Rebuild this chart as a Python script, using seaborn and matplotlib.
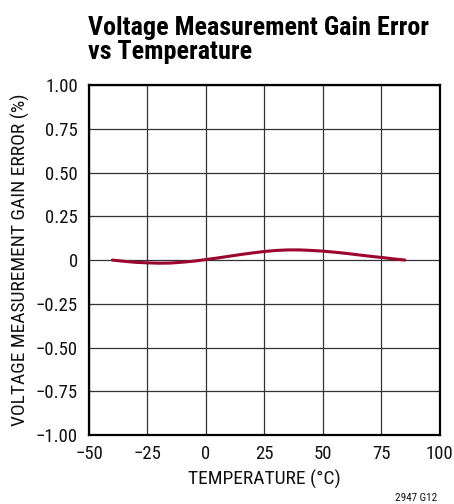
import matplotlib
matplotlib.use("Agg")
import matplotlib.pyplot as plt
import seaborn as sns
import pandas as pd

# Gain error (%) versus temperature (°C)
temperature = [-40, -35, -30, -25, -20, -15, -10, -5, 0, 5, 10, 15, 20,
               25, 30, 35, 40, 45, 50, 55, 60, 65, 70, 75, 80, 85]
gain_error = [0.0, -0.007, -0.013, -0.016, -0.018, -0.017, -0.012, -0.006,
              0.003, 0.012, 0.022, 0.032, 0.041, 0.049, 0.055, 0.058, 0.058,
              0.055, 0.051, 0.045, 0.038, 0.030, 0.022, 0.015, 0.007, 0.0]

x_ticks = [-50, -25, 0, 25, 50, 75, 100]
x_labels = ["\u221250", "\u221225", "0", "25", "50", "75", "100"]
y_ticks = [-1.0, -0.75, -0.5, -0.25, 0.0, 0.25, 0.5, 0.75, 1.0]
y_labels = ["\u22121.00", "\u22120.75", "\u22120.50", "\u22120.25", "0",
            "0.25", "0.50", "0.75", "1.00"]

sns.set_theme(style="white")
plt.rcParams["font.family"] = ["Roboto Condensed", "DejaVu Sans"]

df = pd.DataFrame({"temp": temperature, "err": gain_error})

fig = plt.figure(figsize=(4.54, 5.04), dpi=100)
ax = fig.add_axes([0.196, 0.137, 0.773, 0.694])

sns.lineplot(data=df, x="temp", y="err", ax=ax, color="#9b0530",
             linewidth=2.2, zorder=3)

ax.set_xlim(-50, 100)
ax.set_ylim(-1.0, 1.0)
ax.set_xticks(x_ticks)
ax.set_xticklabels(x_labels)
ax.set_yticks(y_ticks)
ax.set_yticklabels(y_labels)
ax.tick_params(length=0, labelsize=13.5, colors="#111111")
ax.tick_params(axis="y", pad=8)
ax.tick_params(axis="x", pad=7)
ax.grid(True, color="#333333", linewidth=0.9)

for s in ax.spines.values():
    s.set_color("black")
    s.set_linewidth(1.6)

ax.set_xlabel("TEMPERATURE (\u00b0C)", fontsize=14, color="#111111", labelpad=5)
ax.set_ylabel("VOLTAGE MEASUREMENT GAIN ERROR (%)", fontsize=14,
              color="#111111", labelpad=4)

fig.text(0.194, 0.968, "Voltage Measurement Gain Error\nvs Temperature",
         fontsize=18.8, fontweight="bold", va="top", ha="left",
         linespacing=1.0, color="black")
fig.text(0.963, 0.002, "2947 G12", fontsize=8, ha="right", va="bottom",
         color="#111111")

fig.savefig("out.png", dpi=100)
